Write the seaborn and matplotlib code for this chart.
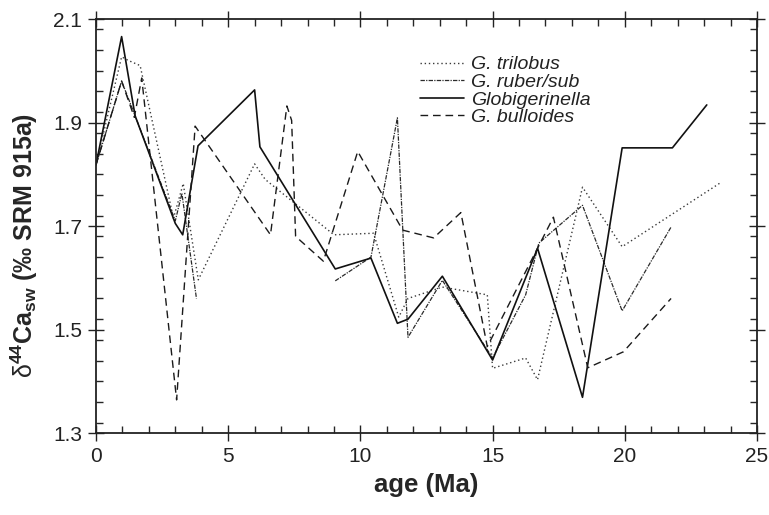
import numpy as np
import pandas as pd
import matplotlib
matplotlib.use("Agg")
import matplotlib.pyplot as plt
import seaborn as sns
from matplotlib.ticker import MultipleLocator, FormatStrFormatter

# ---- data ----
trilobus_x = [0.0, 0.97, 1.22, 1.67, 2.93, 3.3, 3.87, 6.0, 6.4, 9.0, 10.5, 11.45, 11.8, 13.1, 14.8, 15.0, 16.25, 16.7, 18.4, 19.9, 23.6]
trilobus_y = [1.818, 2.027, 2.02, 2.01, 1.715, 1.782, 1.596, 1.82, 1.79, 1.683, 1.686, 1.524, 1.56, 1.582, 1.567, 1.425, 1.445, 1.403, 1.775, 1.66, 1.783]

ruber_x = [0.0, 0.97, 1.48, 3.0, 3.25, 3.8, np.nan, 9.05, 10.4, 11.4, 11.8, 13.1, 15.0, 16.25, 16.75, 17.45, 18.4, 19.9, 21.75]
ruber_y = [1.818, 1.98, 1.913, 1.71, 1.763, 1.56, np.nan, 1.594, 1.64, 1.909, 1.485, 1.595, 1.445, 1.567, 1.667, 1.698, 1.74, 1.536, 1.698]

glob_x = [0.0, 0.97, 1.48, 3.0, 3.28, 3.86, 6.0, 6.2, 9.05, 10.4, 11.4, 11.8, 13.1, 15.0, 16.7, 18.4, 19.9, 21.8, 23.1]
glob_y = [1.818, 2.066, 1.913, 1.705, 1.683, 1.855, 1.963, 1.853, 1.617, 1.638, 1.512, 1.52, 1.603, 1.441, 1.657, 1.369, 1.851, 1.851, 1.934]

bull_x = [0.0, 0.97, 1.45, 1.73, 3.05, 3.75, 6.6, 7.22, 7.4, 7.55, 8.6, 9.9, 11.6, 12.77, 13.8, 14.8, 17.3, 18.6, 19.95, 21.75]
bull_y = [1.818, 1.98, 1.91, 1.986, 1.364, 1.893, 1.683, 1.932, 1.904, 1.68, 1.632, 1.844, 1.692, 1.677, 1.726, 1.467, 1.717, 1.426, 1.457, 1.56]

series_names = ["G. trilobus", "G. ruber/sub", "Globigerinella", "G. bulloides"]
x_ticks = [0, 5, 10, 15, 20, 25]
y_ticks = [1.3, 1.5, 1.7, 1.9, 2.1]

# ---- style ----
sns.set_style("ticks")
plt.rcParams["font.family"] = ["Liberation Sans", "DejaVu Sans"]
plt.rcParams["mathtext.fontset"] = "custom"
plt.rcParams["mathtext.rm"] = "Liberation Sans"
plt.rcParams["mathtext.bf"] = "Liberation Sans:bold"
plt.rcParams["mathtext.it"] = "Liberation Sans:italic"

fig = plt.figure(figsize=(7.69, 5.15), dpi=100)
ax = fig.add_axes([0.1248, 0.1592, 0.8596, 0.8039])

styles = {
    "G. trilobus": dict(color="#3a3a3a", lw=1.0, dashes=(1, 2)),
    "G. ruber/sub": dict(color="#2a2a2a", lw=0.9, dashes=(3.5, 1, 1, 1)),
    "Globigerinella": dict(color="#111111", lw=1.2, dashes=()),
    "G. bulloides": dict(color="#1a1a1a", lw=1.0, dashes=(5.5, 3.5)),
}

def draw(xs, ys, name):
    xs = np.asarray(xs, float)
    ys = np.asarray(ys, float)
    # split into segments at missing values (gaps in the record)
    breaks = np.where(np.isnan(xs))[0]
    starts = np.concatenate([[0], breaks + 1])
    ends = np.concatenate([breaks, [len(xs)]])
    st = styles[name]
    first = True
    for s, e in zip(starts, ends):
        df = pd.DataFrame({"age": xs[s:e], "val": ys[s:e]})
        sns.lineplot(data=df, x="age", y="val", ax=ax, sort=False, estimator=None,
                     color=st["color"], linewidth=st["lw"],
                     label=name if first else None)
        line = ax.get_lines()[-1]
        if st["dashes"]:
            line.set_dashes(st["dashes"])
        first = False

draw(trilobus_x, trilobus_y, series_names[0])
draw(ruber_x, ruber_y, series_names[1])
draw(glob_x, glob_y, series_names[2])
draw(bull_x, bull_y, series_names[3])

ax.set_xlim(0, 25)
ax.set_ylim(1.3, 2.1)
ax.set_xticks(x_ticks)
ax.set_yticks(y_ticks)
ax.xaxis.set_minor_locator(MultipleLocator(1))
ax.yaxis.set_minor_locator(MultipleLocator(0.04))
ax.yaxis.set_major_formatter(FormatStrFormatter("%.1f"))
ax.tick_params(which="major", direction="inout", length=12, width=1.0,
               top=True, right=True, labelsize=15, colors="#222222", pad=4)
ax.tick_params(which="minor", direction="in", length=5, width=1.0,
               top=True, right=True)
for sp in ax.spines.values():
    sp.set_linewidth(1.3)
    sp.set_color("#222222")

ax.set_xlabel("age (Ma)", fontsize=18.5, fontweight="bold", labelpad=5)
ax.set_ylabel(r"$\mathrm{\delta}^{\mathbf{44}}\mathbf{Ca}_{\mathbf{sw}}$ (‰ SRM 915a)",
              fontsize=18, fontweight="bold")
ax.yaxis.set_label_coords(-0.084, 0.454)

leg = ax.legend(loc="upper left", bbox_to_anchor=(0.478, 0.93), frameon=False,
                prop={"style": "italic", "size": 14}, handlelength=2.3,
                handletextpad=0.35, labelspacing=0.0, borderaxespad=0)
for t in leg.get_texts():
    t.set_color("#222222")

fig.savefig("out.png", dpi=100)
